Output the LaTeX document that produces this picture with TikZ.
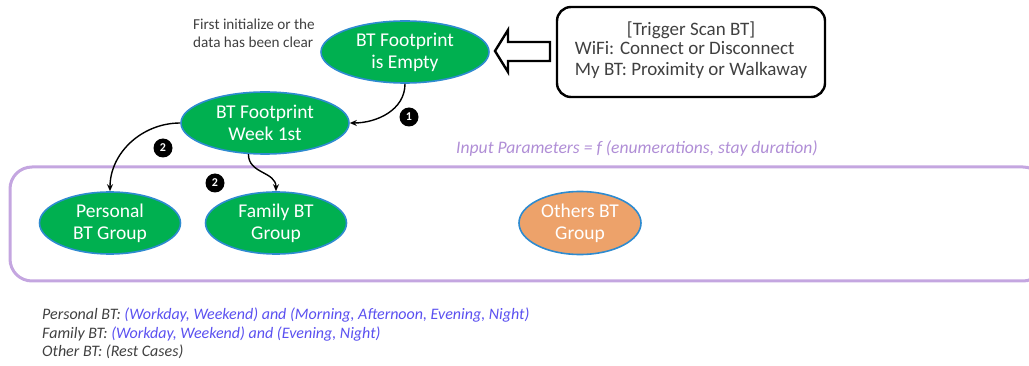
\documentclass[tikz,border=0pt]{standalone}
\usepackage{fontspec}
\setmainfont{Carlito}
\usetikzlibrary{shapes.geometric,arrows.meta}
\definecolor{nodegreen}{HTML}{00B050}
\definecolor{nodeorange}{HTML}{EDA26A}
\definecolor{rimblue}{HTML}{2E8BD0}
\definecolor{txtgray}{HTML}{404040}
\definecolor{lilac}{HTML}{C4A6E0}
\definecolor{lilactext}{HTML}{B08ED6}
\definecolor{bluetext}{HTML}{5A50F0}
\tikzset{
  blob/.style={ellipse, draw=rimblue, line width=1.6pt, fill=nodegreen, text=white,
    minimum width=168pt, minimum height=62pt, inner sep=0pt, align=center,
    font=\fontsize{19.5}{22}\selectfont},
  grp/.style={blob, minimum width=141pt},
  arr/.style={-{Stealth[length=7pt,width=6pt]}, line width=1.4pt},
  badge/.style={circle, fill=black, text=white, minimum size=19pt, inner sep=0pt,
    font=\fontsize{12}{12}\bfseries\selectfont},
  note/.style={text=txtgray, align=left, inner sep=0pt}
}
\begin{document}
\begin{tikzpicture}[x=1pt,y=-1pt]
\useasboundingbox (0,0) rectangle (1029,366);

% nodes of the footprint flow
\node[blob] (empty) at (405,52) {BT Footprint\\is Empty};
\node[blob] (week) at (265,123) {BT Footprint\\Week 1st};
\node[note, font=\fontsize{15.2}{18}\selectfont] (initnote) at (254,33) {First initialize or the\\data has been clear};

% trigger box and hollow arrow
\node[draw, line width=2.4pt, rounded corners=14pt, minimum width=268pt, minimum height=90pt,
      align=center, text=txtgray, font=\fontsize{19}{22}\selectfont] (trigger) at (691,52)
  {[Trigger Scan BT]\\[-1pt]
   \begin{tabular}{@{}l@{}}WiFi: Connect or Disconnect\\[-1pt] My BT: Proximity or Walkaway\end{tabular}};
\draw[line width=2.4pt, line join=miter, fill=white]
  (495,51) -- (508,30) -- (508,42) -- (550,42) -- (550,61) -- (508,61) -- (508,72) -- cycle;

% group frame
\draw[lilac, line width=3pt, rounded corners=22pt] (10,167) rectangle (1045,281);
\node[text=lilactext, font=\fontsize{17.6}{20}\itshape\selectfont] (params) at (637,148)
  {Input Parameters = \textit{f} (enumerations, stay duration)};

\node[grp] (personal) at (110,223) {Personal\\BT Group};
\node[grp] (family) at (276,223) {Family BT\\Group};
\node[grp, fill=nodeorange, minimum width=122pt, minimum height=63pt] (others) at (580,223) {Others BT\\Group};

% connectors
\draw[arr] (empty.south) to[out=-90,in=0] (week.east);
\draw[arr] (week.west) to[out=180,in=90] (personal.north);
\draw[arr] (week.-118) to[out=-90,in=90,looseness=1.1] (family.north);

\node[badge] (b1) at (409,117) {1};
\node[badge] (b2) at (163,148) {2};
\node[badge] (b3) at (215,183) {2};

% legend lines
\node[note, anchor=west, font=\fontsize{16}{18}\itshape\selectfont] (leg1) at (42,315)
  {Personal BT: \textcolor{bluetext}{(Workday, Weekend) and (Morning, Afternoon, Evening, Night)}};
\node[note, anchor=west, font=\fontsize{16}{18}\itshape\selectfont] (leg2) at (42,334)
  {Family BT: \textcolor{bluetext}{(Workday, Weekend) and (Evening, Night)}};
\node[note, anchor=west, font=\fontsize{16}{18}\itshape\selectfont] (leg3) at (42,352)
  {Other BT: (Rest Cases)};
\end{tikzpicture}
\end{document}
